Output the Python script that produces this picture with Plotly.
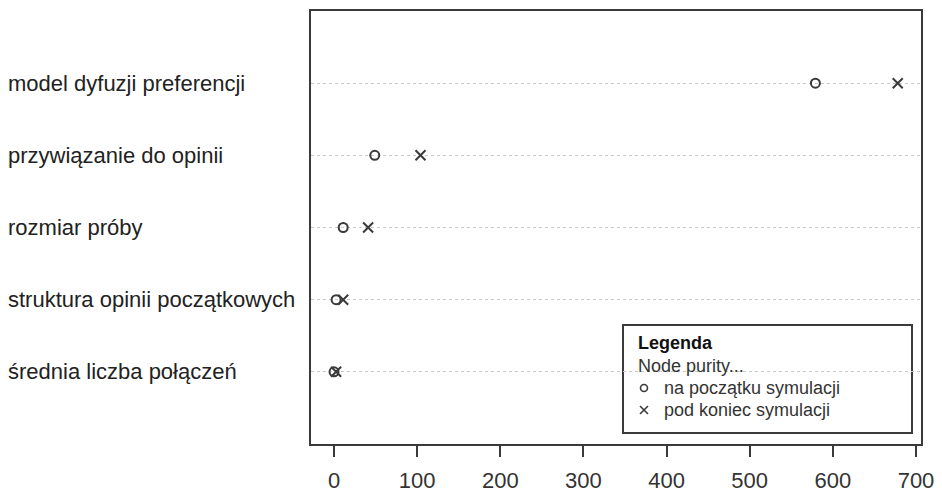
import plotly.graph_objects as go

categories = ["model dyfuzji preferencji", "przywiązanie do opinii", "rozmiar próby",
              "struktura opinii początkowych", "średnia liczba połączeń"]
row_pos = [5, 4, 3, 2, 1]
start_vals = [579, 49, 11, 2.5, 0]
end_vals = [678, 104, 41, 11, 2.5]
x_ticks = [0, 100, 200, 300, 400, 500, 600, 700]
legend_title = "Legenda"
legend_subtitle = "Node purity..."
start_name = "na początku symulacji"
end_name = "pod koniec symulacji"

FONT = "Liberation Sans, Arial, sans-serif"
DARK = "#3a3a3a"

# plot area in screen pixels (page has an 8px body margin)
PL, PR, PT, PB = 311, 921, 11, 444
PW, PH = PR - PL, PB - PT


def px(x):
    return (x - PL) / PW


def py(y):
    return (PB - y) / PH


circle_marker = dict(symbol="circle-open", size=9, color=DARK, line=dict(width=2, color=DARK))
x_marker = dict(symbol="x-thin-open", size=10, color=DARK, line=dict(width=2, color=DARK))

fig = go.Figure()
fig.add_trace(go.Scatter(x=start_vals, y=row_pos, mode="markers", name=start_name,
                         marker=circle_marker, showlegend=False))
fig.add_trace(go.Scatter(x=end_vals, y=row_pos, mode="markers", name=end_name,
                         marker=x_marker, showlegend=False))

# category labels
for cat, y in zip(categories, row_pos):
    fig.add_annotation(text=cat, xref="paper", yref="y", x=px(6), y=y,
                       xanchor="left", yanchor="middle", showarrow=False,
                       font=dict(family=FONT, size=22, color="#222222"))

# manual legend box
fig.add_shape(type="rect", xref="paper", yref="paper",
              x0=px(623), x1=px(912), y0=py(433), y1=py(325),
              line=dict(color=DARK, width=2), fillcolor="white", layer="between")
leg_font = dict(family=FONT, size=18, color="#333333")
fig.add_annotation(text="<b>" + legend_title + "</b>", xref="paper", yref="paper",
                   x=px(636), y=py(343), xanchor="left", yanchor="middle", showarrow=False,
                   font=dict(family=FONT, size=18, color="#111111"))
fig.add_annotation(text=legend_subtitle, xref="paper", yref="paper",
                   x=px(636), y=py(366), xanchor="left", yanchor="middle", showarrow=False,
                   font=leg_font)
fig.add_annotation(text=start_name, xref="paper", yref="paper",
                   x=px(662), y=py(388), xanchor="left", yanchor="middle", showarrow=False,
                   font=leg_font)
fig.add_annotation(text=end_name, xref="paper", yref="paper",
                   x=px(662), y=py(410), xanchor="left", yanchor="middle", showarrow=False,
                   font=leg_font)
fig.add_trace(go.Scatter(x=[px(644)], y=[py(388)], xaxis="x2", yaxis="y2", mode="markers",
                         marker=dict(symbol="circle-open", size=7, color=DARK,
                                     line=dict(width=1.6, color=DARK)),
                         showlegend=False, hoverinfo="skip"))
fig.add_trace(go.Scatter(x=[px(644)], y=[py(410)], xaxis="x2", yaxis="y2", mode="markers",
                         marker=dict(symbol="x-thin-open", size=8, color=DARK,
                                     line=dict(width=1.6, color=DARK)),
                         showlegend=False, hoverinfo="skip"))

fig.update_layout(
    width=934, height=484,
    margin=dict(l=PL - 8, r=942 - PR, t=PT - 8, b=492 - PB),
    paper_bgcolor="white", plot_bgcolor="white",
    font=dict(family=FONT, color="#222222"),
    showlegend=False,
    xaxis=dict(
        range=[-27.7, 706], tickvals=x_ticks, ticktext=[str(t) for t in x_ticks],
        showgrid=False, zeroline=False, showline=True, linecolor=DARK, linewidth=2,
        mirror=True, ticks="outside", ticklen=11, tickwidth=2, tickcolor=DARK,
        tickfont=dict(family=FONT, size=22, color="#333333"), ticklabelstandoff=5,
        automargin=False,
    ),
    yaxis=dict(
        range=[0, 6], tickvals=row_pos, showticklabels=False,
        showgrid=True, gridcolor="#c8c8c8", griddash="dot", gridwidth=1,
        zeroline=False, showline=True, linecolor=DARK, linewidth=2, mirror=True,
        ticks="", automargin=False,
    ),
    xaxis2=dict(range=[0, 1], overlaying="x", visible=False, fixedrange=True),
    yaxis2=dict(range=[0, 1], overlaying="y", visible=False, fixedrange=True),
)

fig.write_html("out.html")
